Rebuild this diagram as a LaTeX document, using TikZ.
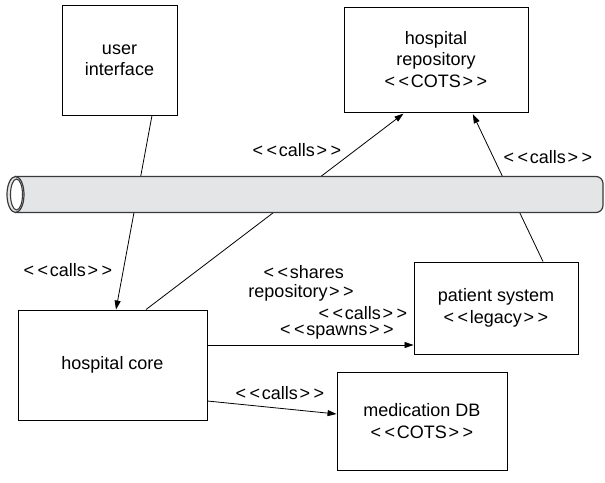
\documentclass[tikz,border=0pt]{standalone}
\usepackage{fontspec}
\setmainfont{Liberation Sans}
\usetikzlibrary{arrows.meta}
\newcommand{\lsym}{\makebox[14pt]{<}}
\newcommand{\gsym}{\makebox[14pt]{>}}
\definecolor{pipefill}{HTML}{E4E5E7}
\definecolor{pipeline}{HTML}{3A3A3A}
\begin{document}
\begin{tikzpicture}[x=1pt,y=-1pt,
  font=\fontsize{18}{21.5}\selectfont,
  box/.style={draw, line width=0.9pt, align=center, inner sep=0pt},
  arr/.style={-{Triangle[length=9pt,width=6pt]}, line width=0.8pt},
  lbl/.style={align=center, inner sep=0pt},
  pipe/.style={draw=pipeline, line width=1.2pt, fill=pipefill}]
\useasboundingbox (0,0) rectangle (605,482);

\node[box, minimum width=115pt, minimum height=110pt] (ui) at (119.5,60) {user\\interface};
\node[box, minimum width=184pt, minimum height=105pt] (repo) at (436,59.5) {hospital\\repository\\\lsym\lsym COTS\gsym\gsym};
\node[box, minimum width=164pt, minimum height=92pt] (pat) at (496,308) {patient system\\\lsym\lsym legacy\gsym\gsym};
\node[box, minimum width=189pt, minimum height=110pt] (core) at (112.5,365) {hospital core};
\node[box, minimum width=170pt, minimum height=98pt] (med) at (422,421) {medication DB\\\lsym\lsym COTS\gsym\gsym};

\draw[arr] (ui.south -| 152,0) -- (core.north -| 116,0);
\draw[arr, shorten >=2pt] (core.north -| 146,0) -- (repo.south -| 405,0);
\draw[arr, shorten >=2pt] (pat.north -| 543,0) -- (repo.south -| 472,0);
\draw[arr] (core.east |- 0,345) -- (pat.west |- 0,345);
\draw[arr] (core.east |- 0,401) -- (med.west |- 0,414);

\node[lbl] (l1) at (68,270) {\lsym\lsym calls\gsym\gsym};
\node[lbl] (l2) at (297,150) {\lsym\lsym calls\gsym\gsym};
\node[lbl] (l3) at (548,157) {\lsym\lsym calls\gsym\gsym};
\node[lbl] (l4) at (303,272) {\lsym\lsym shares};
\node[lbl] (l5) at (302,293) {repository\gsym\gsym};
\node[lbl] (l6) at (363,313) {\lsym\lsym calls\gsym\gsym};
\node[lbl] (l7) at (337,332) {\lsym\lsym spawns\gsym\gsym};
\node[lbl] (l8) at (280,393) {\lsym\lsym calls\gsym\gsym};

% pipe
\path[pipe] (15.5,176.5) [rounded corners=7pt] -- (603,176.5) -- (603,212.5) [sharp corners] -- (15.5,212.5) -- cycle;
\path[pipe] (15.5,194.5) ellipse [x radius=8.5, y radius=18];
\path[draw=pipeline, line width=1.1pt, fill=white] (16.5,194.5) ellipse [x radius=6, y radius=15.5];
\end{tikzpicture}
\end{document}
